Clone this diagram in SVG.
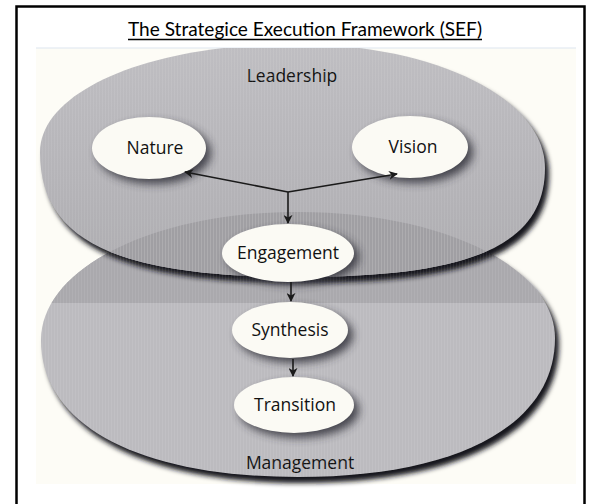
<svg xmlns="http://www.w3.org/2000/svg" width="600" height="504" viewBox="0 0 600 504">
  <defs>
    <style>
      .lbl { font-family: "Open Sans", "Noto Sans", sans-serif; font-size: 17.5px; font-weight: 500; fill: #111; text-anchor: middle; }
      .title { font-family: Lato, "Open Sans", sans-serif; font-size: 19px; fill: #000; text-anchor: middle; }
      .node { fill: #fbfaf4; }
      .nshadow { fill: #30303a; opacity: 0.85; filter: url(#blurS); }
      .conn { stroke: #1a1a1a; stroke-width: 1.6; fill: none; }
    </style>
    <filter id="blurL" x="-20%" y="-20%" width="140%" height="140%"><feGaussianBlur stdDeviation="2.6"/></filter>
    <filter id="blurS" x="-30%" y="-30%" width="160%" height="160%"><feGaussianBlur stdDeviation="4"/></filter>
    <marker id="arr" viewBox="0 0 10 10" refX="9" refY="5" markerWidth="9" markerHeight="9" markerUnits="userSpaceOnUse" orient="auto">
      <path d="M0,0 L10,5 L0,10 L3,5 z" fill="#1a1a1a"/>
    </marker>
    <linearGradient id="gLead" x1="0" y1="0" x2="0" y2="1">
      <stop offset="0" stop-color="#bfbec2"/>
      <stop offset="1" stop-color="#aeadb1"/>
    </linearGradient>
    <pattern id="stripes" width="3" height="10" patternUnits="userSpaceOnUse">
      <rect x="0" y="0" width="1" height="10" fill="#ffffff" opacity="0.07"/>
    </pattern>
    <path id="leadShape" d="M40,152 C40,91.5 148.3,44 295,44 C435.6,44 545,98.6 545,168 C545,244.3 472.2,277 300,277 C113,277 40,239.5 40,152 Z"/>
    <path id="mgmtShape" d="M41,340 C41,268.3 153.5,212 298,212 C442.5,212 555,267.4 555,338 C555,425 458,477 298,477 C138,477 41,425 41,340 Z"/>
    <clipPath id="clipMgmt"><use href="#mgmtShape"/></clipPath>
    <clipPath id="clipScan"><rect x="30" y="48" width="550" height="445"/></clipPath>
  </defs>

  <rect x="16.5" y="6.5" width="568" height="510" fill="#ffffff" stroke="#000" stroke-width="2.5"/>
  <rect x="36" y="48" width="540" height="436" fill="#fdfcf6"/>
  <line x1="36" y1="48" x2="576" y2="48" stroke="#dde6f0" stroke-width="1.2"/>

  <g id="title">
    <text class="title" x="305" y="36" textLength="354" lengthAdjust="spacingAndGlyphs">The Strategice Execution Framework (SEF)</text>
    <line x1="128" y1="39.5" x2="482" y2="39.5" stroke="#000" stroke-width="1.5"/>
  </g>

  <g clip-path="url(#clipScan)">
    <g id="management">
      <use href="#mgmtShape" fill="#15151e" transform="translate(4,6)" filter="url(#blurL)"/>
      <use href="#mgmtShape" fill="#bcbbbf"/>
      <rect x="30" y="200" width="550" height="103" fill="#aaa9ad" clip-path="url(#clipMgmt)"/>
      <text class="lbl" x="300" y="469">Management</text>
    </g>
    <g id="leadership">
      <use href="#leadShape" fill="#15151e" transform="translate(4,6)" filter="url(#blurL)"/>
      <use href="#leadShape" fill="url(#gLead)"/>
      <use href="#leadShape" fill="#a09fa3" clip-path="url(#clipMgmt)"/>
      <text class="lbl" x="292" y="82">Leadership</text>
    </g>
    <use href="#mgmtShape" fill="url(#stripes)"/>
    <use href="#leadShape" fill="url(#stripes)"/>
  </g>

  <g id="nature">
    <ellipse class="nshadow" cx="154" cy="153" rx="57" ry="31"/>
    <ellipse class="node" cx="149" cy="148" rx="57" ry="31"/>
    <text class="lbl" x="155" y="154">Nature</text>
  </g>
  <g id="vision">
    <ellipse class="nshadow" cx="415" cy="152" rx="58" ry="31"/>
    <ellipse class="node" cx="410" cy="147" rx="58" ry="31"/>
    <text class="lbl" x="413" y="153">Vision</text>
  </g>
  <g id="engagement">
    <ellipse class="nshadow" cx="293" cy="257" rx="66" ry="28"/>
    <ellipse class="node" cx="288" cy="253" rx="66" ry="29"/>
    <text class="lbl" x="288" y="259">Engagement</text>
  </g>
  <g id="synthesis">
    <ellipse class="nshadow" cx="295" cy="335" rx="58" ry="28"/>
    <ellipse class="node" cx="290" cy="330" rx="58" ry="28"/>
    <text class="lbl" x="290" y="336">Synthesis</text>
  </g>
  <g id="transition">
    <ellipse class="nshadow" cx="299" cy="410" rx="60" ry="28"/>
    <ellipse class="node" cx="294" cy="405" rx="60" ry="28"/>
    <text class="lbl" x="295" y="411">Transition</text>
  </g>

  <g id="connectors">
    <line class="conn" x1="288" y1="192" x2="185" y2="172" marker-end="url(#arr)"/>
    <line class="conn" x1="288" y1="192" x2="397" y2="174" marker-end="url(#arr)"/>
    <line class="conn" x1="288" y1="192" x2="288" y2="223" marker-end="url(#arr)"/>
    <line class="conn" x1="291" y1="282" x2="291" y2="301" marker-end="url(#arr)"/>
    <line class="conn" x1="293" y1="359" x2="293" y2="376" marker-end="url(#arr)"/>
  </g>
</svg>
